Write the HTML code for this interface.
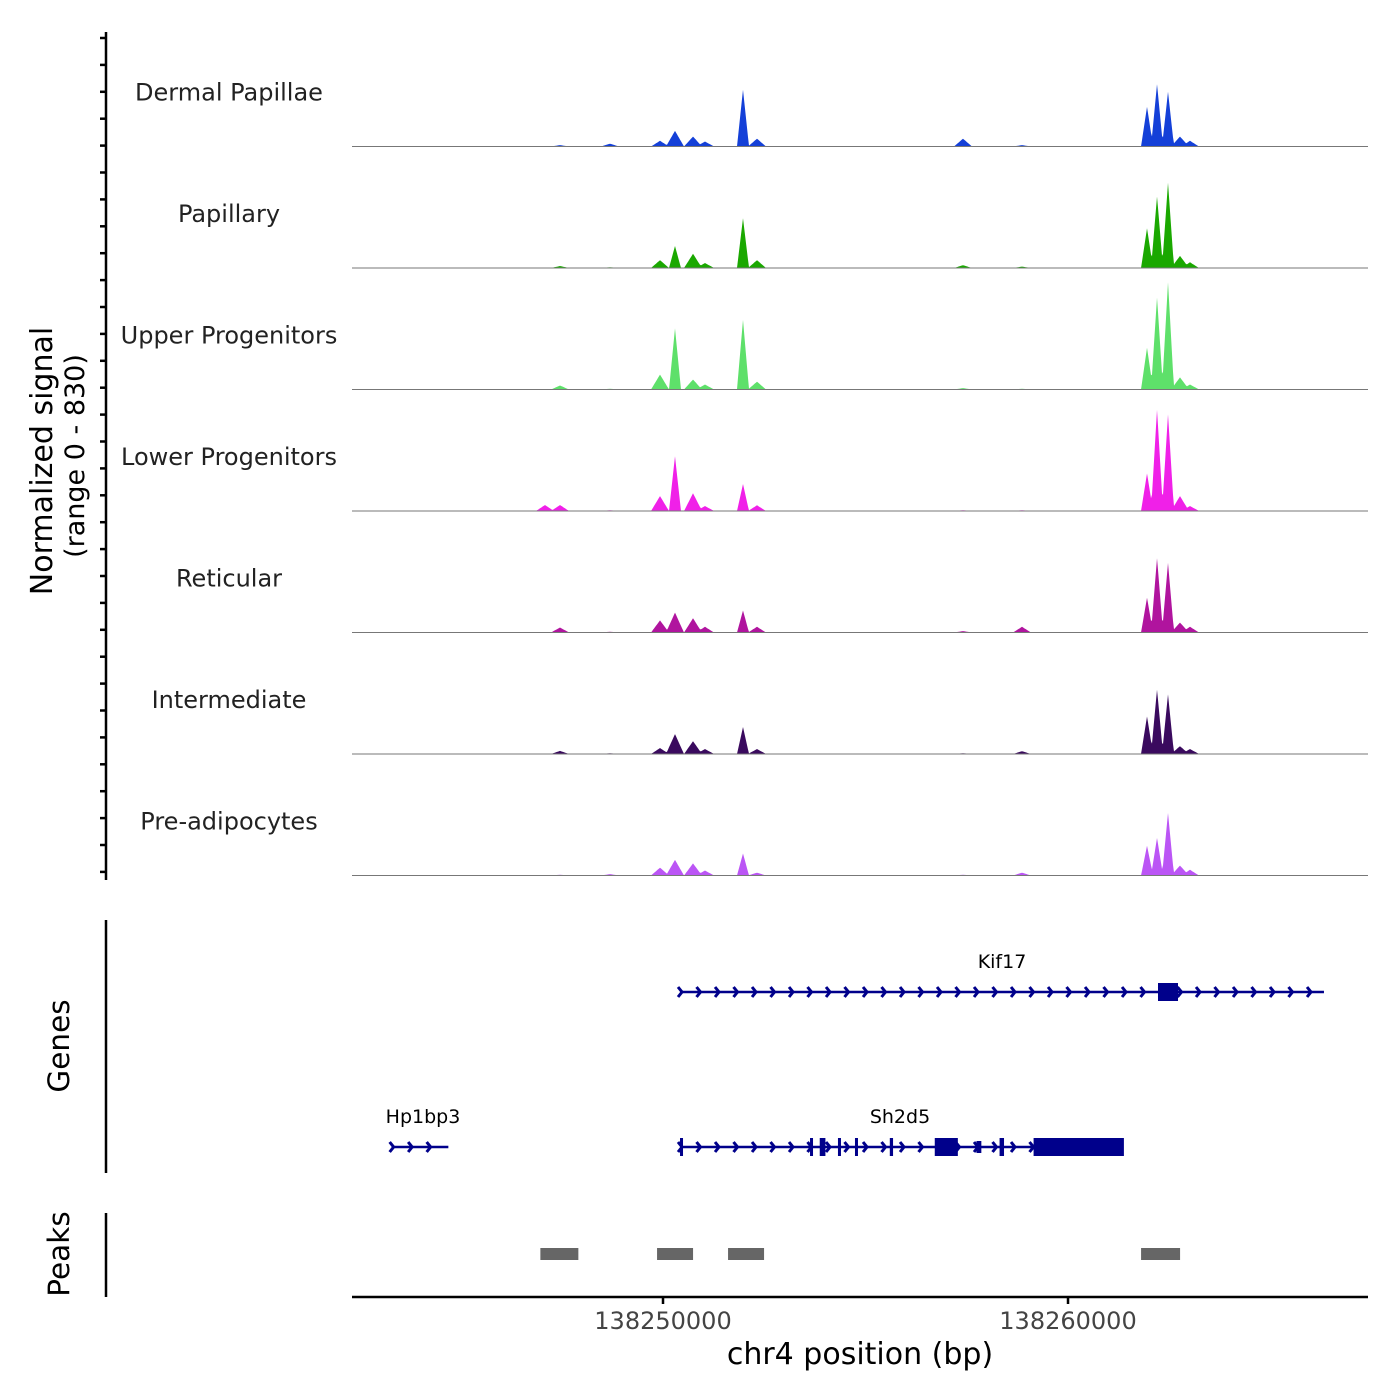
<!DOCTYPE html>
<html><head><meta charset="utf-8">
<style>
html,body{margin:0;padding:0;background:#fff;}
svg{display:block;font-family:"DejaVu Sans","Liberation Sans",sans-serif;}
</style></head>
<body>
<svg id="chart" width="1400" height="1400" viewBox="0 0 1400 1400" xmlns="http://www.w3.org/2000/svg">
<g id="tracks"></g>
<g id="yaxis">
<line x1="106" y1="32" x2="106" y2="880" stroke="#000" stroke-width="2.5"/>
</g>
<text transform="translate(52,461) rotate(-90)" text-anchor="middle" font-size="30">Normalized signal</text>
<text transform="translate(84,456) rotate(-90)" text-anchor="middle" font-size="27">(range 0 - 830)</text>
<g id="genes">
<line x1="106" y1="920" x2="106" y2="1173" stroke="#000" stroke-width="2.5"/>
<text transform="translate(69,1046) rotate(-90)" text-anchor="middle" font-size="29.5">Genes</text>
</g>
<g id="peaks">
<line x1="106" y1="1213" x2="106" y2="1297" stroke="#000" stroke-width="2.5"/>
<text transform="translate(69,1254) rotate(-90)" text-anchor="middle" font-size="29.5">Peaks</text>
</g>
<g id="xaxis">
<line x1="352" y1="1297" x2="1368" y2="1297" stroke="#000" stroke-width="2.5"/>
</g>
<text x="860" y="1364" text-anchor="middle" font-size="30">chr4 position (bp)</text>
</svg>
<script>
const trackNames = ["Dermal Papillae","Papillary","Upper Progenitors","Lower Progenitors","Reticular","Intermediate","Pre-adipocytes"];
const trackColors = ["#1440d8","#1aa800","#5ee06a","#f020e8","#b0149e","#3a0a5e","#bb55f5"];
const peakPositions = [138247086,138247457,138248691,138249926,138250296,138250741,138251037,138251975,138252321,138257407,138258864,138261951,138262198,138262469,138262765,138263012];
const dermalValues =       [0,10,20,40,110,70,35,400,55,55,10,280,440,385,70,40];
const papillaryValues =    [0,14,5,55,155,100,35,350,55,20,10,280,505,600,85,40];
const upperValues =        [0,28,5,105,430,70,35,490,55,10,5,295,650,755,85,35];
const lowerValues =        [42,42,5,105,385,125,35,190,40,5,5,265,715,680,105,35];
const reticularValues =    [0,35,5,85,140,100,40,155,40,10,40,245,525,490,70,40];
const intermediateValues = [0,22,5,42,140,90,35,190,35,5,20,265,455,420,55,35];
const preadipoValues =     [0,5,10,55,110,85,35,155,20,5,20,210,265,440,70,40];
const trackValues = [dermalValues,papillaryValues,upperValues,lowerValues,reticularValues,intermediateValues,preadipoValues];
const xTicks = [138250000,138260000];
const xTickLabels = ["138250000","138260000"];
const peakStarts = [138246972,138249853,138251606,138261804];
const peakEnds =   [138247910,138250742,138252495,138262767];
const geneNames = ["Kif17","Sh2d5","Hp1bp3"];
const geneStarts = [138250420,138250420,138243300];
const geneEnds =   [138266320,138261280,138244700];
const geneRows = [0,1,1];
const exonStarts = [138262222,138250420,138253630,138253870,138254320,138254740,138255600,138256710,138257740,138258310,138259150];
const exonEnds =   [138262716,138250480,138253700,138254010,138254380,138254800,138255680,138257280,138257860,138258420,138261380];
const exonRows =   [0,1,1,1,1,1,1,1,1,1,1];
const exonTall =   [1,1,1,1,1,1,1,1,0,1,1];

const NS="http://www.w3.org/2000/svg";
const X0=352,X1=1368,BP0=138242321,BP1=138267407;
const xs = bp => X0+(bp-BP0)/(BP1-BP0)*(X1-X0);
const TH=121.5, TOP=25, YMAX=830, HPX=118;
const ys = v => v/YMAX*HPX;
function mk(tag,attrs,parent){const e=document.createElementNS(NS,tag);for(const k in attrs)e.setAttribute(k,attrs[k]);parent.appendChild(e);return e;}

const tracks=document.getElementById('tracks');
trackNames.forEach((name,i)=>{
  const base=TOP+TH*(i+1);
  const g=mk('g',{},tracks);
  
  
  const vals=trackValues[i];
  let d='M'+X0+','+base;
  for(let x=X0;x<=X1;x+=1){
    let h=0;
    peakPositions.forEach((p,j)=>{
      const w = vals[j]>150?6:9;
      const v=ys(vals[j])*Math.max(0,1-Math.abs(x-xs(p))/w);
      if(v>h)h=v;
    });
    d+=' L'+x+','+(base-h).toFixed(1);
  }
  d+=' L'+X1+','+base+' Z';
  const a=mk('path',{d:d,fill:trackColors[i]},g);
  
  
  const l=mk('line',{x1:X0,y1:base,x2:X1,y2:base,stroke:'#777','stroke-width':1},g);
  
  
  const t=mk('text',{x:229,y:base-46,'text-anchor':'middle','font-size':24,fill:'#222'},g);
  t.textContent=name;
  
  
});
const yax=document.getElementById('yaxis');
for(let y=38;y<=880;y+=26.9){
  const tk=mk('line',{x1:100,y1:y.toFixed(1),x2:106,y2:y.toFixed(1),stroke:'#000','stroke-width':2.5},yax);
  
  
}
const pk=document.getElementById('peaks');
peakStarts.forEach((s,i)=>{
  const r=mk('rect',{x:xs(s),y:1248,width:xs(peakEnds[i])-xs(s),height:12,fill:'#666'},pk);
  
  
});
const gn=document.getElementById('genes');
const rowY=[992,1147];
geneNames.forEach((n,i)=>{
  const y=rowY[geneRows[i]], x0=xs(geneStarts[i]), x1=xs(geneEnds[i]);
  const g=mk('g',{},gn);
  
  
  mk('line',{x1:x0,y1:y,x2:x1,y2:y,stroke:'#00008b','stroke-width':2.5},g);
  for(let x=x0+2;x<=x1;x+=18.5){
    mk('polyline',{points:(x-4)+','+(y-5)+' '+x+','+y+' '+(x-4)+','+(y+5),fill:'none',stroke:'#00008b','stroke-width':3},g);
  }
  const t=mk('text',{x:(n==='Kif17'?1002:n==='Sh2d5'?900:423),y:y-24,'text-anchor':'middle','font-size':19},g);
  t.textContent=n;
  
  
});
exonStarts.forEach((s,i)=>{
  const y=rowY[exonRows[i]], h=exonTall[i]?18:12;
  const r=mk('rect',{x:xs(s),y:y-h/2,width:Math.max(3,xs(exonEnds[i])-xs(s)),height:h,fill:'#00008b'},gn);
  
  
});
const xa=document.getElementById('xaxis');
xTicks.forEach((v,i)=>{
  const x=xs(v);
  const tk=mk('line',{x1:x,y1:1297,x2:x,y2:1304,stroke:'#000','stroke-width':2.5},xa);
  
  
  const t=mk('text',{x:x,y:1329,'text-anchor':'middle','font-size':24,fill:'#444'},xa);
  t.textContent=xTickLabels[i];
  
  
});
</script>
</body></html>
